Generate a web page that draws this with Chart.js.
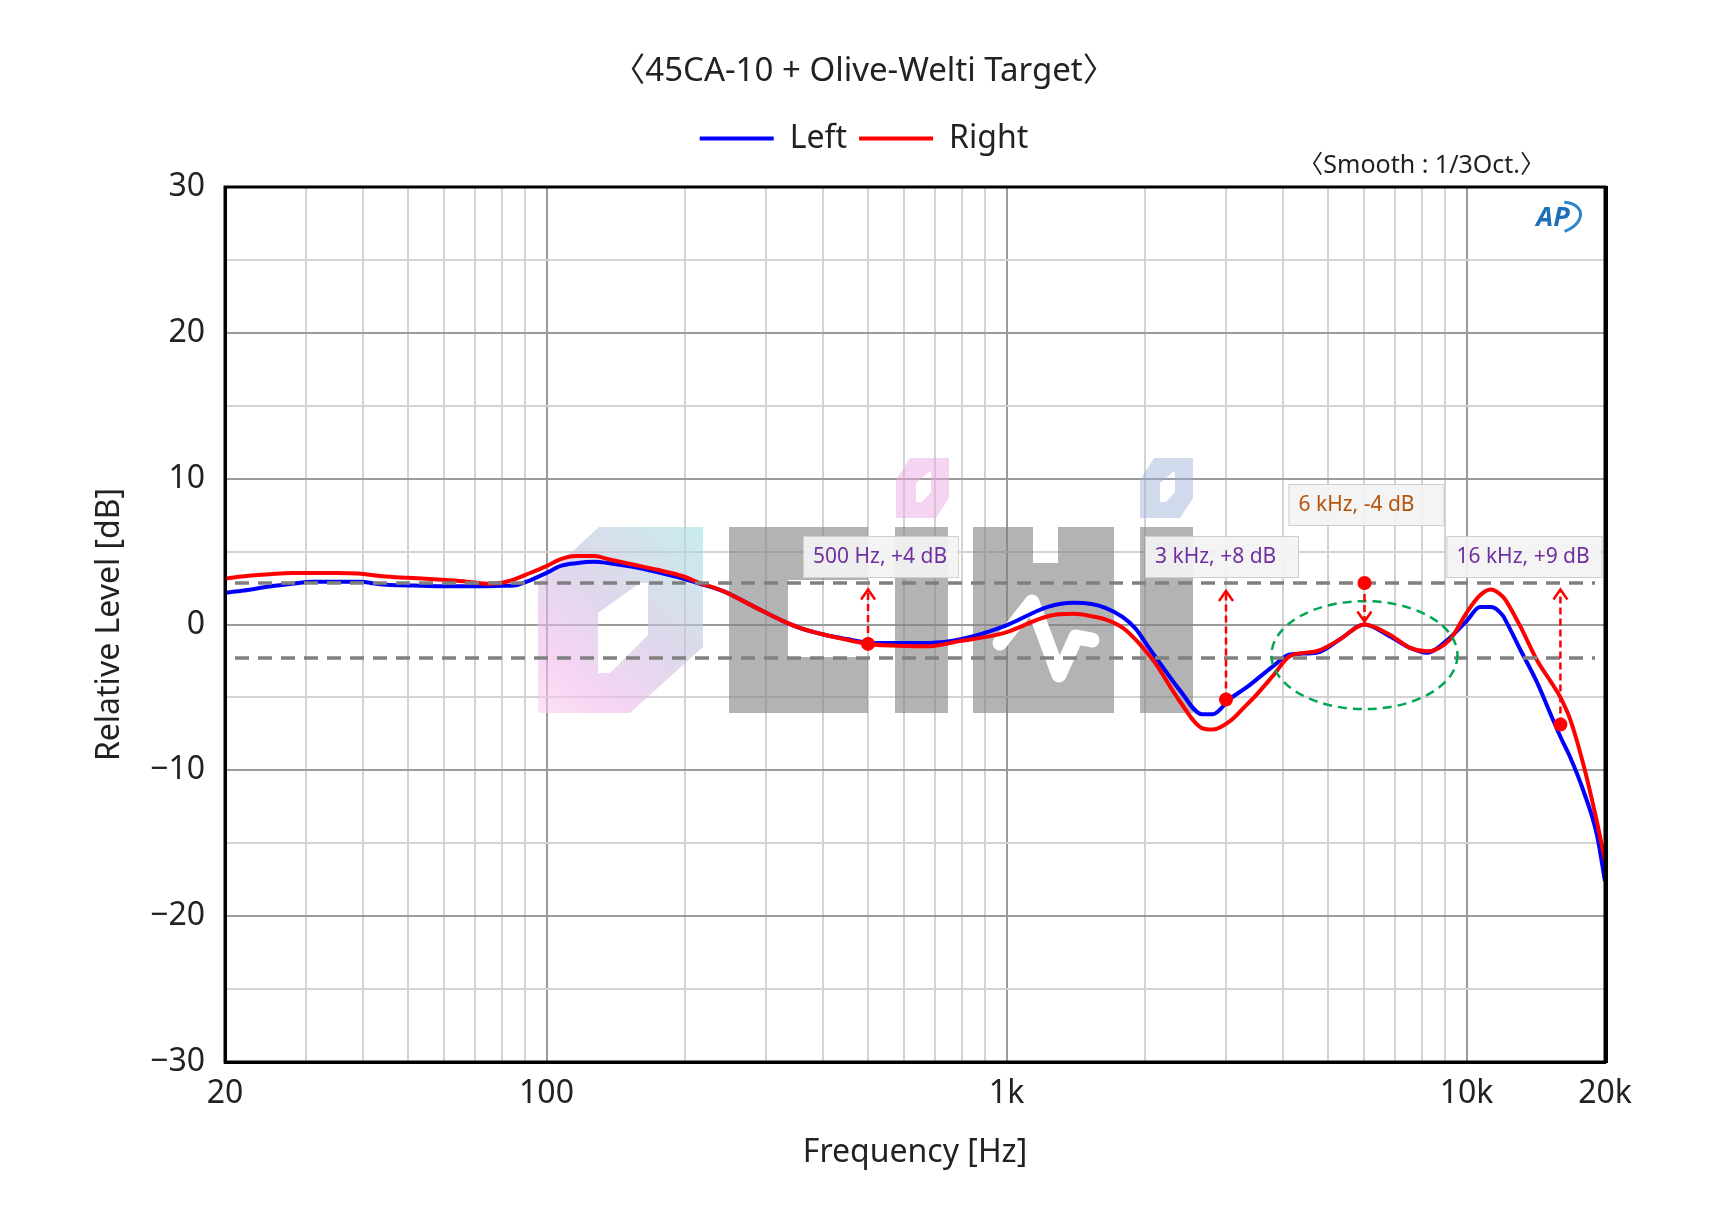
<!DOCTYPE html>
<html>
<head>
<meta charset="utf-8">
<title>45CA-10 + Olive-Welti Target</title>
<script src="https://cdn.jsdelivr.net/npm/chart.js@4.4.1/dist/chart.umd.min.js"></script>
<style>
html, body { margin: 0; padding: 0; background: #fff; }
#wrap { width: 1728px; height: 1224px; }
</style>
</head>
<body>
<div id="wrap"><canvas id="fr-chart" width="1728" height="1224"></canvas></div>
<script>
// frequency points (Hz)
var freqs = [20, 22, 25, 28, 31, 35, 39, 44, 50, 58, 66, 74, 80, 85, 90,
    100, 107, 116, 127, 137, 154, 173, 198, 212, 242, 286, 327, 355, 400, 450,
    510, 580, 680, 790, 990, 1230, 1400, 1530, 1640, 1790, 1910, 2030, 2100, 2380, 2660, 2810,
    3060, 3330, 3440, 3800, 4130, 4720, 5300, 6000, 6800, 7540, 8200, 9200,
    10000, 10700, 11300, 12000, 12200, 13100, 14200, 15450, 16000, 16800, 17950, 19200, 20000];

// Left channel (dB)
var leftDb = [2.17, 2.33, 2.6, 2.79, 2.93, 2.93, 2.93, 2.75, 2.68, 2.63, 2.63, 2.63, 2.65, 2.67, 2.9,
    3.54, 4.0, 4.2, 4.3, 4.2, 3.95, 3.61, 3.15, 2.86, 2.29, 1.14, 0.23, -0.23, -0.69, -1.0,
    -1.26, -1.26, -1.26, -1.03, -0.11, 1.21, 1.49, 1.4, 1.14, 0.5, -0.3, -1.5, -2.15, -4.5, -6.15, -6.15,
    -5.1, -4.3, -3.95, -2.85, -2.06, -1.94, -1.03, 0, -0.8, -1.6, -1.94, -0.91,
    0.23, 1.2, 1.2, 0.6, 0.2, -1.75, -3.9, -6.6, -7.7, -9.1, -11.4, -14.4, -17.6];

// Right channel (dB)
var rightDb = [3.15, 3.31, 3.45, 3.54, 3.54, 3.54, 3.5, 3.31, 3.2, 3.09, 2.97, 2.8, 2.86, 3.09, 3.4,
    4.0, 4.46, 4.69, 4.69, 4.46, 4.11, 3.77, 3.31, 2.93, 2.29, 1.14, 0.23, -0.23, -0.69, -1.05,
    -1.37, -1.45, -1.49, -1.14, -0.57, 0.57, 0.73, 0.57, 0.35, -0.23, -1.05, -2.0, -2.6, -5.26, -7.1, -7.2,
    -6.63, -5.49, -5.05, -3.5, -2.17, -1.83, -1.03, 0, -0.69, -1.6, -1.83, -1.03,
    0.8, 2.0, 2.4, 1.9, 1.6, -0.15, -2.4, -4.2, -5.0, -6.5, -9.6, -13.5, -16.2];

// x grid lines and the labels shown under them
var xGrid = [20, 30, 40, 50, 60, 70, 80, 90, 100, 200, 300, 400, 500, 600, 700, 800, 900,
    1000, 2000, 3000, 4000, 5000, 6000, 7000, 8000, 9000, 10000, 20000];
var xLabels = { 20: '20', 100: '100', 1000: '1k', 10000: '10k', 20000: '20k' };

// reference band (dB) drawn as grey dashes
var bandDb = [2.85, -2.3];

// marked points: frequency, dot level, arrow tip level, label
var markFreq = [500, 3000, 6000, 16000];
var markDb = [-1.33, -5.14, 2.85, -6.86];
var markTipDb = [2.4, 2.3, 0.2, 2.4];
var markText = ['500 Hz, +4 dB', '3 kHz, +8 dB', '6 kHz, -4 dB', '16 kHz, +9 dB'];

// dashed ring around the 6 kHz bump (centre in Hz / dB)
var ringFreq = 6000, ringDb = -2.1;

var FONT = '"Noto Sans", "Noto Sans CJK KR", sans-serif';
var PURPLE = '#7030a0', BROWN = '#b5530c';
// label boxes: x offset from the marker, top offset from chart top, width
var markBox = [
    { dx: -65, top: 349, w: 155, color: PURPLE },
    { dx: -81, top: 349, w: 153, color: PURPLE },
    { dx: -76, top: 297, w: 155, color: BROWN },
    { dx: -114, top: 349, w: 155, color: PURPLE }
];

function toPoints(ys) {
    return freqs.map(function (f, i) { return { x: f, y: ys[i] }; });
}

function poly(ctx, pts) {
    ctx.moveTo(pts[0][0], pts[0][1]);
    for (var i = 1; i < pts.length; i++) ctx.lineTo(pts[i][0], pts[i][1]);
    ctx.closePath();
}

// faint site logo behind the curves
function drawWatermark(chart) {
    var ctx = chart.ctx, a = chart.chartArea;
    ctx.save();
    ctx.translate(a.left, a.top);

    var g = ctx.createLinearGradient(478, 340, 313, 526);
    g.addColorStop(0, 'rgba(165,225,225,0.62)');
    g.addColorStop(0.45, 'rgba(200,190,222,0.6)');
    g.addColorStop(0.8, 'rgba(240,185,235,0.6)');
    g.addColorStop(1, 'rgba(252,205,238,0.6)');
    ctx.fillStyle = g;
    ctx.beginPath();
    poly(ctx, [[374, 340], [478, 340], [478, 460], [405, 526], [313, 526], [313, 396]]);
    poly(ctx, [[373, 426], [415, 396], [423, 396], [423, 448], [385, 486], [373, 486]]);
    ctx.fill('evenodd');

    // small dots above the two i's
    function dot(x, col) {
        ctx.fillStyle = col;
        ctx.beginPath();
        poly(ctx, [[x + 14, 271], [x + 53, 271], [x + 53, 311], [x + 40, 331], [x, 331], [x, 293]]);
        poly(ctx, [[x + 20, 296], [x + 33, 285], [x + 35, 285], [x + 35, 305], [x + 26, 315], [x + 20, 315]]);
        ctx.fill('evenodd');
    }
    dot(671, 'rgba(235,170,228,0.5)');
    dot(915, 'rgba(150,172,212,0.45)');

    ctx.fillStyle = 'rgba(128,128,128,0.6)';
    ctx.beginPath();
    // C
    ctx.rect(504, 340, 59, 186);
    ctx.rect(563, 340, 80, 53);
    ctx.rect(563, 470, 80, 56);
    // i
    ctx.rect(670, 340, 53, 186);
    // H with a top notch
    ctx.rect(748, 340, 60, 186);
    ctx.rect(808, 376, 25, 150);
    ctx.rect(833, 340, 56, 186);
    // i
    ctx.rect(915, 340, 53, 186);
    ctx.fill();

    ctx.strokeStyle = '#ffffff';
    ctx.lineWidth = 15;
    ctx.lineCap = 'round';
    ctx.lineJoin = 'round';
    ctx.beginPath();
    ctx.moveTo(775, 456);
    ctx.lineTo(807, 415);
    ctx.lineTo(834, 488);
    ctx.lineTo(851, 450);
    ctx.lineTo(867, 453);
    ctx.stroke();
    ctx.restore();
}

function drawArrow(ctx, x, y0, y1) {
    ctx.save();
    ctx.strokeStyle = '#ff0000';
    ctx.lineWidth = 2.5;
    ctx.setLineDash([7, 4]);
    ctx.beginPath();
    ctx.moveTo(x, y0);
    ctx.lineTo(x, y1);
    ctx.stroke();
    ctx.setLineDash([]);
    var d = y1 < y0 ? 10 : -10;
    ctx.beginPath();
    ctx.moveTo(x - 7, y1 + d);
    ctx.lineTo(x, y1);
    ctx.lineTo(x + 7, y1 + d);
    ctx.stroke();
    ctx.restore();
}

// dashed band, arrows, dots, labels and the green ring
function drawGuides(chart) {
    var ctx = chart.ctx, a = chart.chartArea;
    var xs = chart.scales.x, ys = chart.scales.y;
    ctx.save();
    ctx.strokeStyle = '#808080';
    ctx.lineWidth = 3.5;
    ctx.setLineDash([14, 9]);
    bandDb.forEach(function (v) {
        var y = Math.round(ys.getPixelForValue(v));
        ctx.beginPath();
        ctx.moveTo(a.left + 10, y);
        ctx.lineTo(a.right - 10, y);
        ctx.stroke();
    });
    ctx.restore();

    // ring
    ctx.save();
    ctx.strokeStyle = '#00a651';
    ctx.lineWidth = 2.5;
    ctx.setLineDash([9, 6]);
    ctx.beginPath();
    ctx.ellipse(xs.getPixelForValue(ringFreq), ys.getPixelForValue(ringDb), 93, 54, 0, 0, Math.PI * 2);
    ctx.stroke();
    ctx.restore();

    markFreq.forEach(function (f, i) {
        var x = xs.getPixelForValue(f);
        var y0 = ys.getPixelForValue(markDb[i]);
        var y1 = ys.getPixelForValue(markTipDb[i]);
        drawArrow(ctx, x, y0, y1);
        ctx.save();
        ctx.fillStyle = '#ff0000';
        ctx.beginPath();
        ctx.arc(x, y0, 7, 0, Math.PI * 2);
        ctx.fill();

        var b = markBox[i];
        var bx = x + b.dx, by = a.top + b.top;
        ctx.fillStyle = 'rgba(243,243,243,0.92)';
        ctx.fillRect(bx, by, b.w, 41);
        ctx.strokeStyle = '#cfcfcf';
        ctx.lineWidth = 1;
        ctx.strokeRect(bx + 0.5, by + 0.5, b.w, 41);
        ctx.fillStyle = b.color;
        ctx.font = '21px ' + FONT;
        ctx.textAlign = 'left';
        ctx.textBaseline = 'middle';
        ctx.fillText(markText[i], bx + 10, by + 21);
        ctx.restore();
    });
}

var overlay = {
    id: 'overlay',
    beforeDatasetsDraw: function (chart) { drawWatermark(chart); },
    afterDatasetsDraw: function (chart) { drawGuides(chart); },
    afterDraw: function (chart) {
        var ctx = chart.ctx, a = chart.chartArea;
        ctx.save();
        // frame
        ctx.strokeStyle = '#000';
        ctx.lineWidth = 3;
        ctx.strokeRect(a.left, a.top, a.right - a.left, a.bottom - a.top);
        ctx.fillStyle = '#000';
        ctx.fillRect(a.right - 1, a.top - 1, 4, a.bottom - a.top + 2);

        // smoothing note
        ctx.fillStyle = '#222';
        ctx.font = '25px ' + FONT;
        ctx.textAlign = 'right';
        ctx.textBaseline = 'middle';
        ctx.fillText('〈Smooth : 1/3Oct.〉', a.left + 1320, a.top - 21);

        // AP logo
        var lx = a.right - 50, ly = a.top + 31;
        ctx.fillStyle = '#1d6fb8';
        ctx.font = 'italic bold 27px ' + FONT;
        ctx.textAlign = 'center';
        ctx.fillText('AP', lx - 2, ly);
        ctx.strokeStyle = '#2e86c8';
        ctx.lineWidth = 3;
        ctx.beginPath();
        ctx.ellipse(lx + 2, ly, 24, 15, -0.25, -1.1, 1.4);
        ctx.stroke();
        ctx.restore();
    }
};

var ctxEl = document.getElementById('fr-chart');
var frChart = new Chart(ctxEl, {
    type: 'line',
    data: {
        datasets: [{
            label: 'Left',
            data: toPoints(leftDb),
            borderColor: '#0000ff',
            backgroundColor: '#0000ff',
            borderWidth: 4,
            pointRadius: 0,
            cubicInterpolationMode: 'monotone',
            order: 1
        }, {
            label: 'Right',
            data: toPoints(rightDb),
            borderColor: '#ff0000',
            backgroundColor: '#ff0000',
            borderWidth: 4,
            pointRadius: 0,
            cubicInterpolationMode: 'monotone',
            order: 0
        }]
    },
    options: {
        responsive: false,
        animation: false,
        devicePixelRatio: 1,
        font: { family: FONT },
        layout: { padding: 0 },
        plugins: {
            title: {
                display: true,
                text: '〈45CA-10 + Olive-Welti Target〉',
                color: '#222',
                font: { family: FONT, size: 33, weight: 'normal' },
                padding: { top: 52, bottom: 19 }
            },
            legend: {
                display: true,
                labels: {
                    color: '#222',
                    font: { family: FONT, size: 32 },
                    usePointStyle: true,
                    pointStyle: 'line',
                    pointStyleWidth: 74,
                    padding: 12,
                    sort: function (a, b) { return a.datasetIndex - b.datasetIndex; }
                }
            },
            tooltip: { enabled: false }
        },
        scales: {
            x: {
                type: 'logarithmic',
                position: 'bottom',
                min: 20,
                max: 20000,
                afterBuildTicks: function (s) {
                    s.ticks = xGrid.map(function (v) { return { value: v }; });
                },
                afterFit: function (s) { s.height = 162; },
                ticks: {
                    autoSkip: false,
                    maxRotation: 0,
                    padding: 13,
                    color: '#222',
                    font: { family: FONT, size: 32 },
                    callback: function (v) { return xLabels[v] || ''; }
                },
                grid: {
                    drawTicks: false,
                    lineWidth: 2,
                    color: function (c) {
                        var v = c.tick && c.tick.value;
                        return (v === 100 || v === 1000 || v === 10000) ? '#9b9b9b' : '#d3d3d3';
                    }
                },
                border: { color: '#000', width: 3 },
                title: {
                    display: true,
                    text: 'Frequency [Hz]',
                    color: '#222',
                    font: { family: FONT, size: 32 },
                    padding: { top: 0, bottom: 52 }
                }
            },
            y: {
                position: 'left',
                min: -30,
                max: 30,
                afterFit: function (s) { s.width = 225; },
                ticks: {
                    stepSize: 5,
                    padding: 20,
                    color: '#222',
                    font: { family: FONT, size: 32 },
                    callback: function (v) {
                        if (v % 10 !== 0) return '';
                        return v < 0 ? '\u2212' + Math.abs(v) : String(v);
                    }
                },
                grid: {
                    drawTicks: false,
                    lineWidth: 2,
                    color: function (c) {
                        return (c.tick && c.tick.value % 10 === 0) ? '#9b9b9b' : '#d3d3d3';
                    }
                },
                border: { color: '#000', width: 3 },
                title: {
                    display: true,
                    text: 'Relative Level [dB]',
                    color: '#222',
                    font: { family: FONT, size: 32 },
                    padding: { top: 91, bottom: 0 }
                }
            },
            // empty spacer axes that pin the plot box
            yRight: {
                type: 'linear',
                position: 'right',
                min: 0, max: 1,
                grid: { display: false },
                ticks: { display: false },
                border: { display: false },
                afterFit: function (s) { s.width = 123; }
            },
            xTop: {
                type: 'linear',
                position: 'top',
                min: 0, max: 1,
                grid: { display: false },
                ticks: { display: false },
                border: { display: false },
                afterFit: function (s) {
                    var c = s.chart;
                    var used = (c.titleBlock ? c.titleBlock.height : 0) + (c.legend ? c.legend.height : 0);
                    s.height = Math.max(0, 187 - used);
                }
            }
        }
    },
    plugins: [overlay]
});
</script>
</body>
</html>
